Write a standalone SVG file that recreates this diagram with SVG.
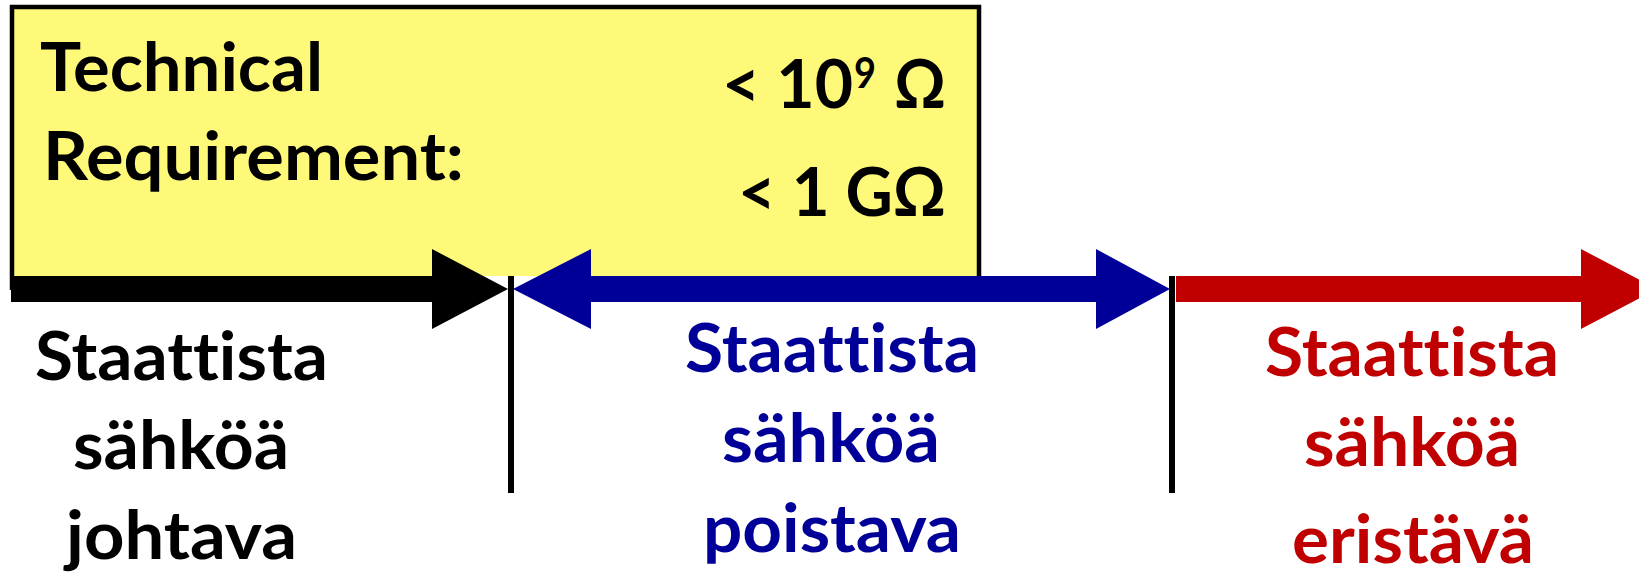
<svg xmlns="http://www.w3.org/2000/svg" width="1639" height="577" viewBox="0 0 1639 577">
<style>
text{font-family:Lato,"Open Sans","Liberation Sans",sans-serif;font-weight:bold;font-size:67px;font-variant-ligatures:none;font-feature-settings:"liga" 0,"clig" 0}
.k{fill:#000}
.b{fill:#000099}
.r{fill:#C00000}
.tick{stroke:#000;stroke-width:6}
</style>
<g id="requirement-box">
<rect x="12" y="7" width="967" height="269" fill="#FFF97A"/>
<path d="M12 290 V7 H979 V276" fill="none" stroke="#000" stroke-width="4.5"/>
<text class="k" x="40" y="91" textLength="283" lengthAdjust="spacingAndGlyphs">Technical</text>
<text class="k" x="43" y="180" textLength="421" lengthAdjust="spacingAndGlyphs">Requirement:</text>
<text class="k" y="108"><tspan x="722" textLength="131" lengthAdjust="spacingAndGlyphs">&lt; 10</tspan><tspan x="854" y="88" font-size="42" textLength="22" lengthAdjust="spacingAndGlyphs">9</tspan><tspan x="885" y="108"> </tspan><tspan x="894" y="108" textLength="52" lengthAdjust="spacingAndGlyphs">Ω</tspan></text>
<text class="k" x="738" y="216" textLength="208" lengthAdjust="spacingAndGlyphs">&lt; 1 GΩ</text>
</g>
<g id="connectors">
<polygon fill="#000" points="11,276 432,276 432,249 508,289 432,329 432,302 11,302"/>
<polygon fill="#000099" points="513,289 591,249 591,276 1096,276 1096,249 1170,289 1096,329 1096,302 591,302 591,329"/>
<polygon fill="#C00000" points="1176,276 1581,276 1581,249 1657,289 1581,329 1581,302 1176,302"/>
<line class="tick" x1="511" y1="276" x2="511" y2="493"/>
<line class="tick" x1="1172" y1="276" x2="1172" y2="493"/>
</g>
<g id="conductive">
<text class="k" x="35" y="380" textLength="293" lengthAdjust="spacingAndGlyphs">Staattista</text>
<text class="k" x="73" y="469" textLength="216" lengthAdjust="spacingAndGlyphs">sähköä</text>
<text class="k" x="66" y="559" textLength="231" lengthAdjust="spacingAndGlyphs">johtava</text>
</g>
<g id="dissipative">
<text class="b" x="685" y="372" textLength="294" lengthAdjust="spacingAndGlyphs">Staattista</text>
<text class="b" x="722" y="462" textLength="218" lengthAdjust="spacingAndGlyphs">sähköä</text>
<text class="b" x="703" y="552" textLength="258" lengthAdjust="spacingAndGlyphs">poistava</text>
</g>
<g id="insulative">
<text class="r" x="1265" y="376" textLength="294" lengthAdjust="spacingAndGlyphs">Staattista</text>
<text class="r" x="1304" y="466" textLength="216" lengthAdjust="spacingAndGlyphs">sähköä</text>
<text class="r" x="1292" y="563" textLength="242" lengthAdjust="spacingAndGlyphs">eristävä</text>
</g>
</svg>
